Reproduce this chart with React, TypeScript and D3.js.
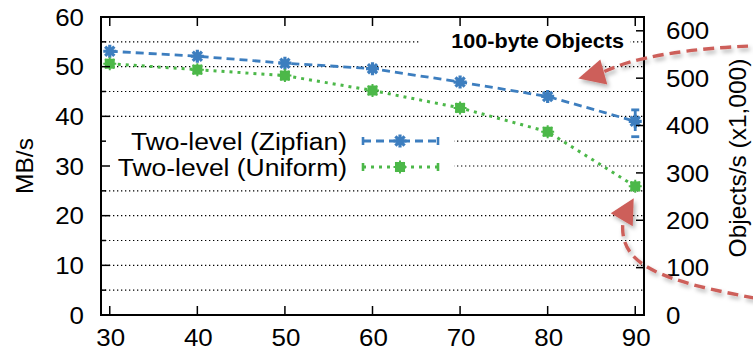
import React from "react";
import * as d3 from "d3";

// Throughput of two-level storage with 100-byte objects
const loadPct = [30, 40, 50, 60, 70, 80, 90];
const zipfianMBs = [53.1, 52.1, 50.7, 49.6, 46.9, 44.0, 39.0];
const uniformMBs = [50.6, 49.4, 48.2, 45.2, 41.7, 36.9, 25.9];
const zipfianErrLo = [53.1, 52.1, 50.7, 49.6, 46.9, 44.0, 35.9];
const zipfianErrHi = [53.1, 52.1, 50.7, 49.6, 46.9, 44.0, 41.3];
const uniformErrLo = [50.6, 49.4, 48.2, 45.2, 41.7, 36.9, 25.6];
const uniformErrHi = [50.6, 49.4, 48.2, 45.2, 41.7, 36.9, 26.2];
const seriesNames = ["Two-level (Zipfian)", "Two-level (Uniform)"];
const leftTicks = [0, 10, 20, 30, 40, 50, 60];
const rightTicks = [0, 100, 200, 300, 400, 500, 600];
const chartTitle = "100-byte Objects";
// annotation arrow tips, in data units
const arrowTips = [
  { x: 83.5, y: 47.6 },
  { x: 87.2, y: 20.5 },
];

const W = 753;
const H = 354;
const L = 101, R = 644, T = 17, B = 315;
const BLUE = "#3d7ebf";
const GREEN = "#4cb849";
const RED = "#cd5f5a";
const FONT = "'Liberation Sans', Arial, Helvetica, sans-serif";
const SX = 1.08;

const x = d3.scaleLinear().domain([29, 91]).range([L, R]);
const y = d3.scaleLinear().domain([0, 60]).range([B, T]);
// objects/s (x1,000) for 100-byte objects, 1 MB = 2^20 bytes
const yR = d3.scaleLinear().domain([0, 60 * 1.048576 * 10]).range([B, T]);

function Txt(props: {
  x: number; y: number; size: number; anchor?: string; weight?: string; children: React.ReactNode;
}) {
  return (
    <text
      transform={`translate(${props.x},${props.y}) scale(${SX},1)`}
      fontSize={props.size}
      fontFamily={FONT}
      fontWeight={props.weight || "normal"}
      textAnchor={props.anchor || "start"}
      dominantBaseline="central"
      fill="#000"
    >
      {props.children}
    </text>
  );
}

function Star({ cx, cy, r, color, w }: { cx: number; cy: number; r: number; color: string; w: number }) {
  const d = [0, 45, 90, 135]
    .map((a) => {
      const t = (a * Math.PI) / 180;
      const dx = Math.cos(t) * r, dy = Math.sin(t) * r;
      return `M${cx - dx},${cy - dy}L${cx + dx},${cy + dy}`;
    })
    .join("");
  return <path d={d} stroke={color} strokeWidth={w} fill="none" />;
}

function ZipMarker({ cx, cy }: { cx: number; cy: number }) {
  return <Star cx={cx} cy={cy} r={6.5} color={BLUE} w={3.2} />;
}

function UniMarker({ cx, cy }: { cx: number; cy: number }) {
  return (
    <g>
      <rect x={cx - 5} y={cy - 5} width={10} height={10} fill={GREEN} />
      <Star cx={cx} cy={cy} r={6.5} color={GREEN} w={2} />
    </g>
  );
}

export default function App() {
  const line = d3
    .line<number>()
    .x((_, i) => x(loadPct[i]))
    .y((v) => y(v));

  const grid = d3.range(5, 60, 5);
  const minor = d3.range(5, 60, 10);

  const legendY = [141, 167];
  const legX0 = 363, legX1 = 438, legMid = 400;

  // annotation arrows: triangle head plus a curved dashed tail leaving the frame
  const a1 = { x: x(arrowTips[0].x), y: y(arrowTips[0].y) };
  const a2 = { x: x(arrowTips[1].x), y: y(arrowTips[1].y) };
  const head1 = `M${a1.x},${a1.y}L${a1.x + 22},${a1.y - 19}L${a1.x + 29},${a1.y + 6}Z`;
  const tail1 = `M${a1.x + 26},${a1.y - 7}Q${a1.x + 72},${a1.y - 29} ${a1.x + 182},${a1.y - 33}`;
  const head2 = `M${a2.x},${a2.y}L${a2.x + 23},${a2.y - 15}L${a2.x + 22},${a2.y + 13}Z`;
  const tail2 = `M${a2.x + 12},${a2.y + 12}C${a2.x + 10},${a2.y + 52} ${a2.x + 50},${a2.y + 68} ${a2.x + 150},${a2.y + 86}`;

  return (
    <svg
      width={W}
      height={H}
      viewBox={`0 0 ${W} ${H}`}
      style={{ position: "absolute", left: 0, top: 0, background: "#fff" }}
    >
      <defs>
        <filter id="shadow" x="-20%" y="-20%" width="140%" height="160%">
          <feDropShadow dx="2" dy="3" stdDeviation="2" floodColor="#000" floodOpacity="0.3" />
        </filter>
        <clipPath id="page">
          <rect x={0} y={0} width={W} height={H} />
        </clipPath>
      </defs>

      {/* dotted grid */}
      {grid.map((g) => (
        <line
          key={g}
          x1={L}
          x2={R}
          y1={y(g)}
          y2={y(g)}
          stroke="#000"
          strokeWidth={1.1}
          strokeDasharray="1.3,2.7"
        />
      ))}

      {/* key and title backgrounds */}
      <rect x={L + 1} y={128} width={453 - L} height={52} fill="#fff" />
      <rect x={420} y={30} width={210} height={24} fill="#fff" />

      {/* series lines */}
      <path d={line(zipfianMBs) || ""} fill="none" stroke={BLUE} strokeWidth={2.8} strokeDasharray="8,5" />
      <path d={line(uniformMBs) || ""} fill="none" stroke={GREEN} strokeWidth={3} strokeDasharray="3,5" />

      {/* error bars */}
      {loadPct.map((p, i) =>
        zipfianErrHi[i] - zipfianErrLo[i] > 0.1 ? (
          <g key={"ez" + p} stroke={BLUE} strokeWidth={2.8}>
            <line x1={x(p)} x2={x(p)} y1={y(zipfianErrHi[i])} y2={y(zipfianErrLo[i])} strokeDasharray="8,5" />
            <line x1={x(p) - 4} x2={x(p) + 4} y1={y(zipfianErrHi[i])} y2={y(zipfianErrHi[i])} />
            <line x1={x(p) - 4} x2={x(p) + 4} y1={y(zipfianErrLo[i])} y2={y(zipfianErrLo[i])} />
          </g>
        ) : null
      )}
      {loadPct.map((p, i) =>
        uniformErrHi[i] - uniformErrLo[i] > 0.1 ? (
          <g key={"eu" + p} stroke={GREEN} strokeWidth={2.6}>
            <line x1={x(p)} x2={x(p)} y1={y(uniformErrHi[i])} y2={y(uniformErrLo[i])} />
          </g>
        ) : null
      )}

      {/* markers */}
      {loadPct.map((p, i) => (
        <ZipMarker key={"mz" + p} cx={x(p)} cy={y(zipfianMBs[i])} />
      ))}
      {loadPct.map((p, i) => (
        <UniMarker key={"mu" + p} cx={x(p)} cy={y(uniformMBs[i])} />
      ))}

      {/* frame */}
      <rect x={L} y={T} width={R - L} height={B - T} fill="none" stroke="#000" strokeWidth={2} />

      {/* ticks */}
      {loadPct.map((p) => (
        <g key={"xt" + p} stroke="#000" strokeWidth={1.5}>
          <line x1={x(p)} x2={x(p)} y1={B} y2={B - 9} />
          <line x1={x(p)} x2={x(p)} y1={T} y2={T + 9} />
        </g>
      ))}
      {leftTicks.map((t) => (
        <line key={"yl" + t} x1={L} x2={L + 9} y1={y(t)} y2={y(t)} stroke="#000" strokeWidth={1.5} />
      ))}
      {minor.map((t) => (
        <line key={"ym" + t} x1={L} x2={L + 5} y1={y(t)} y2={y(t)} stroke="#000" strokeWidth={1.5} />
      ))}
      {rightTicks.map((t) => (
        <line key={"yr" + t} x1={R} x2={R - 8} y1={yR(t)} y2={yR(t)} stroke="#000" strokeWidth={1.5} />
      ))}

      {/* tick labels */}
      {loadPct.map((p) => (
        <Txt key={"xl" + p} x={x(p) + 1} y={337} size={24} anchor="middle">
          {p}
        </Txt>
      ))}
      {leftTicks.map((t) => (
        <Txt key={"ll" + t} x={84} y={y(t)} size={24} anchor="end">
          {t}
        </Txt>
      ))}
      {rightTicks.map((t) => (
        <Txt key={"rl" + t} x={666} y={yR(t)} size={24}>
          {t}
        </Txt>
      ))}

      {/* axis titles */}
      <text
        transform={`translate(24,${(T + B) / 2}) rotate(-90)`}
        fontSize={24.5}
        fontFamily={FONT}
        textAnchor="middle"
        dominantBaseline="central"
      >
        MB/s
      </text>
      <text
        transform={`translate(737,${(T + B) / 2 - 8}) rotate(-90)`}
        fontSize={24.5}
        fontFamily={FONT}
        textAnchor="middle"
        dominantBaseline="central"
      >
        Objects/s (x1,000)
      </text>

      {/* title */}
      <Txt x={624} y={41} size={20} anchor="end" weight="bold">
        {chartTitle}
      </Txt>

      {/* key */}
      {seriesNames.map((name, k) => (
        <Txt key={name} x={347} y={legendY[k]} size={24.5} anchor="end">
          {name}
        </Txt>
      ))}
      <g>
        <line x1={legX0} x2={legX1} y1={legendY[0]} y2={legendY[0]} stroke={BLUE} strokeWidth={2.8} strokeDasharray="8,5" />
        <line x1={legX0} x2={legX0} y1={legendY[0] - 4} y2={legendY[0] + 4} stroke={BLUE} strokeWidth={2.6} />
        <line x1={legX1} x2={legX1} y1={legendY[0] - 4} y2={legendY[0] + 4} stroke={BLUE} strokeWidth={2.6} />
        <ZipMarker cx={legMid} cy={legendY[0]} />
        <line x1={legX0} x2={legX1} y1={legendY[1]} y2={legendY[1]} stroke={GREEN} strokeWidth={3} strokeDasharray="3,5" />
        <line x1={legX0} x2={legX0} y1={legendY[1] - 4} y2={legendY[1] + 4} stroke={GREEN} strokeWidth={2.6} />
        <line x1={legX1} x2={legX1} y1={legendY[1] - 4} y2={legendY[1] + 4} stroke={GREEN} strokeWidth={2.6} />
        <UniMarker cx={legMid} cy={legendY[1]} />
      </g>

      {/* annotation arrows */}
      <g clipPath="url(#page)" filter="url(#shadow)">
        <path d={tail1} fill="none" stroke={RED} strokeWidth={3.4} strokeDasharray="11,6" />
        <path d={head1} fill={RED} />
        <path d={tail2} fill="none" stroke={RED} strokeWidth={3.4} strokeDasharray="11,6" />
        <path d={head2} fill={RED} />
      </g>
    </svg>
  );
}
